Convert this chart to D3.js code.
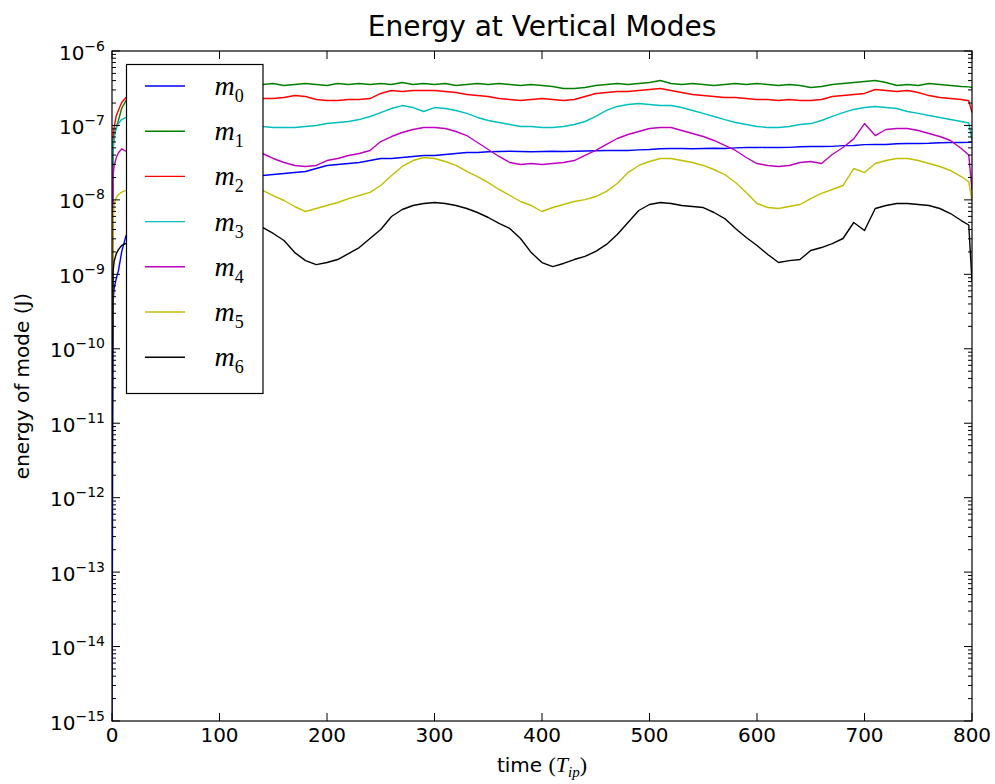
<!DOCTYPE html>
<html>
<head>
<meta charset="utf-8">
<script src="https://cdn.jsdelivr.net/npm/d3@7"></script>
<style>
  body { margin: 0; background: #fff; }
</style>
</head>
<body>
<script>
const width = 995;
const height = 784;
const margin = {top: 51, right: 23, bottom: 63, left: 112};
const plotW = width - margin.left - margin.right;
const plotH = height - margin.top - margin.bottom;

// time in T_ip
const times = [0, 1, 2, 4, 6, 9, 13,
  20, 30, 40, 50, 60, 70, 80, 90, 100, 110, 120, 130,
  140, 150, 160, 170, 180, 190, 200, 210, 220, 230,
  240, 250, 260, 270, 280, 290, 300, 310, 320, 330,
  340, 350, 360, 370, 380, 390, 400, 410, 420, 430,
  440, 450, 460, 470, 480, 490, 500, 510, 520, 530,
  540, 550, 560, 570, 580, 590, 600, 610, 620, 630,
  640, 650, 660, 670, 680, 690, 700, 710, 720, 730,
  740, 750, 760, 770, 780, 790, 797, 800];

// energy of each vertical mode (J)
const m0 = [1e-15, 4.4e-10, 6.5e-10, 8.8e-10, 1.12e-9, 2.0e-9, 3.3e-9,
  4.2e-9, 5.8e-9, 7.4e-9, 9.0e-9, 1.06e-8, 1.22e-8, 1.38e-8, 1.53e-8, 1.7e-8, 1.82e-8, 1.93e-8, 2.04e-8,
  2.13e-8, 2.19e-8, 2.26e-8, 2.33e-8, 2.41e-8, 2.64e-8, 2.90e-8, 2.99e-8, 3.08e-8, 3.18e-8,
  3.38e-8, 3.60e-8, 3.60e-8, 3.71e-8, 3.83e-8, 3.95e-8, 3.95e-8, 4.07e-8, 4.20e-8, 4.33e-8,
  4.33e-8, 4.43e-8, 4.47e-8, 4.5e-8, 4.47e-8, 4.43e-8, 4.47e-8, 4.5e-8, 4.47e-8, 4.5e-8,
  4.53e-8, 4.57e-8, 4.61e-8, 4.63e-8, 4.61e-8, 4.7e-8, 4.75e-8, 4.86e-8, 4.9e-8, 4.9e-8,
  4.86e-8, 4.9e-8, 4.94e-8, 4.9e-8, 5.0e-8, 5.05e-8, 5.05e-8, 5.08e-8, 5.05e-8, 5.08e-8,
  5.18e-8, 5.21e-8, 5.21e-8, 5.24e-8, 5.35e-8, 5.38e-8, 5.52e-8, 5.55e-8, 5.55e-8, 5.68e-8,
  5.72e-8, 5.72e-8, 5.76e-8, 5.85e-8, 5.9e-8, 5.9e-8, 5.92e-8, 5.95e-8];

const m1 = [1e-11, 4.5e-8, 7.3e-8, 9.5e-8, 1.17e-7, 1.69e-7, 2.16e-7,
  2.6e-7, 3.0e-7, 3.2e-7, 3.35e-7, 3.45e-7, 3.55e-7, 3.45e-7, 3.55e-7, 3.65e-7, 3.55e-7, 3.6e-7, 3.65e-7,
  3.55e-7, 3.66e-7, 3.44e-7, 3.55e-7, 3.66e-7, 3.55e-7, 3.44e-7, 3.66e-7, 3.55e-7, 3.66e-7,
  3.55e-7, 3.66e-7, 3.55e-7, 3.77e-7, 3.55e-7, 3.66e-7, 3.55e-7, 3.66e-7, 3.44e-7, 3.55e-7,
  3.66e-7, 3.55e-7, 3.66e-7, 3.55e-7, 3.44e-7, 3.55e-7, 3.44e-7, 3.33e-7, 3.13e-7, 3.13e-7,
  3.23e-7, 3.44e-7, 3.55e-7, 3.66e-7, 3.55e-7, 3.66e-7, 3.77e-7, 4.02e-7, 3.66e-7, 3.55e-7,
  3.66e-7, 3.55e-7, 3.44e-7, 3.55e-7, 3.66e-7, 3.55e-7, 3.66e-7, 3.55e-7, 3.44e-7, 3.55e-7,
  3.44e-7, 3.23e-7, 3.33e-7, 3.55e-7, 3.66e-7, 3.77e-7, 3.89e-7, 4.02e-7, 3.77e-7, 3.44e-7,
  3.55e-7, 3.44e-7, 3.66e-7, 3.55e-7, 3.44e-7, 3.33e-7, 3.3e-7, 3.23e-7];

const m2 = [1e-11, 7e-8, 9.5e-8, 1.35e-7, 1.6e-7, 2.03e-7, 2.37e-7,
  2.6e-7, 2.7e-7, 2.6e-7, 2.5e-7, 2.4e-7, 2.3e-7, 2.3e-7, 2.2e-7, 2.3e-7, 2.25e-7, 2.2e-7, 2.25e-7,
  2.30e-7, 2.30e-7, 2.37e-7, 2.52e-7, 2.45e-7, 2.23e-7, 2.16e-7, 2.16e-7, 2.23e-7, 2.23e-7,
  2.30e-7, 2.69e-7, 2.95e-7, 2.86e-7, 2.95e-7, 2.95e-7, 2.95e-7, 2.86e-7, 2.77e-7, 2.60e-7,
  2.52e-7, 2.45e-7, 2.30e-7, 2.23e-7, 2.16e-7, 2.23e-7, 2.30e-7, 2.23e-7, 2.16e-7, 2.23e-7,
  2.45e-7, 2.69e-7, 2.77e-7, 2.86e-7, 2.86e-7, 2.95e-7, 3.04e-7, 3.13e-7, 2.95e-7, 2.77e-7,
  2.60e-7, 2.52e-7, 2.45e-7, 2.37e-7, 2.37e-7, 2.30e-7, 2.23e-7, 2.23e-7, 2.16e-7, 2.23e-7,
  2.16e-7, 2.16e-7, 2.23e-7, 2.45e-7, 2.52e-7, 2.60e-7, 2.69e-7, 3.04e-7, 2.95e-7, 2.86e-7,
  2.95e-7, 2.77e-7, 2.52e-7, 2.37e-7, 2.30e-7, 2.23e-7, 2.15e-7, 1.49e-7];

const m3 = [1e-11, 5e-8, 7e-8, 9.2e-8, 1.06e-7, 1.2e-7, 1.28e-7,
  1.3e-7, 1.35e-7, 1.4e-7, 1.45e-7, 1.4e-7, 1.35e-7, 1.3e-7, 1.2e-7, 1.13e-7, 1.08e-7, 1.03e-7, 9.9e-8,
  9.68e-8, 9.38e-8, 9.38e-8, 9.38e-8, 9.68e-8, 9.98e-8, 1.06e-7, 1.095e-7, 1.13e-7, 1.20e-7,
  1.32e-7, 1.49e-7, 1.69e-7, 1.85e-7, 1.74e-7, 1.54e-7, 1.74e-7, 1.69e-7, 1.59e-7, 1.45e-7,
  1.28e-7, 1.165e-7, 1.095e-7, 1.03e-7, 9.68e-8, 9.68e-8, 9.38e-8, 9.38e-8, 9.68e-8, 1.03e-7,
  1.13e-7, 1.32e-7, 1.59e-7, 1.80e-7, 1.91e-7, 1.97e-7, 1.91e-7, 1.85e-7, 1.85e-7, 1.74e-7,
  1.59e-7, 1.45e-7, 1.32e-7, 1.20e-7, 1.095e-7, 1.03e-7, 9.68e-8, 9.38e-8, 9.38e-8, 9.68e-8,
  1.03e-7, 1.06e-7, 1.165e-7, 1.32e-7, 1.49e-7, 1.64e-7, 1.74e-7, 1.80e-7, 1.74e-7, 1.69e-7,
  1.54e-7, 1.45e-7, 1.36e-7, 1.28e-7, 1.20e-7, 1.13e-7, 1.08e-7, 6.28e-8];

const m4 = [1e-11, 2.1e-8, 2.9e-8, 3.7e-8, 4.3e-8, 4.85e-8, 4.5e-8,
  4.8e-8, 5.4e-8, 6e-8, 6.5e-8, 6.8e-8, 7e-8, 6.8e-8, 6.5e-8, 6e-8, 5.4e-8, 4.9e-8, 4.5e-8,
  4.20e-8, 3.60e-8, 3.18e-8, 2.90e-8, 2.81e-8, 2.90e-8, 3.38e-8, 3.60e-8, 3.95e-8, 4.20e-8,
  4.61e-8, 6.08e-8, 7.10e-8, 8.04e-8, 8.82e-8, 9.38e-8, 9.38e-8, 9.10e-8, 8.29e-8, 7.32e-8,
  5.90e-8, 4.75e-8, 3.83e-8, 3.18e-8, 2.99e-8, 3.08e-8, 2.99e-8, 3.08e-8, 3.18e-8, 3.38e-8,
  3.95e-8, 4.61e-8, 5.55e-8, 6.68e-8, 7.55e-8, 8.29e-8, 9.10e-8, 9.38e-8, 9.38e-8, 8.55e-8,
  7.79e-8, 7.10e-8, 6.28e-8, 5.38e-8, 4.61e-8, 3.71e-8, 3.08e-8, 2.90e-8, 2.81e-8, 2.90e-8,
  3.18e-8, 3.28e-8, 3.08e-8, 4.07e-8, 5.05e-8, 6.6e-8, 1.06e-7, 7.32e-8, 8.82e-8, 9.10e-8,
  9.10e-8, 8.55e-8, 7.79e-8, 7.10e-8, 6.28e-8, 4.90e-8, 4.0e-8, 1.34e-8];

const m5 = [1e-11, 5.3e-9, 8.9e-9, 1.08e-8, 1.18e-8, 1.27e-8, 1.34e-8,
  1.5e-8, 1.8e-8, 2.15e-8, 2.5e-8, 2.7e-8, 2.8e-8, 2.7e-8, 2.5e-8, 2.15e-8, 1.85e-8, 1.6e-8, 1.45e-8,
  1.34e-8, 1.145e-8, 9.81e-9, 8.15e-9, 6.98e-9, 7.66e-9, 8.40e-9, 9.22e-9, 1.04e-8, 1.145e-8,
  1.26e-8, 1.56e-8, 2.13e-8, 2.81e-8, 3.38e-8, 3.71e-8, 3.60e-8, 3.28e-8, 2.90e-8, 2.41e-8,
  2.06e-8, 1.71e-8, 1.38e-8, 1.145e-8, 9.51e-9, 8.40e-9, 6.98e-9, 7.90e-9, 8.67e-9, 9.51e-9,
  1.01e-8, 1.11e-8, 1.30e-8, 1.66e-8, 2.33e-8, 2.90e-8, 3.28e-8, 3.60e-8, 3.60e-8, 3.38e-8,
  3.18e-8, 2.90e-8, 2.56e-8, 2.19e-8, 1.71e-8, 1.26e-8, 8.94e-9, 7.90e-9, 7.66e-9, 8.15e-9,
  8.67e-9, 1.04e-8, 1.22e-8, 1.38e-8, 1.56e-8, 2.64e-8, 2.33e-8, 3.08e-8, 3.38e-8, 3.60e-8,
  3.60e-8, 3.38e-8, 3.08e-8, 2.81e-8, 2.48e-8, 2.06e-8, 1.75e-8, 9.81e-9];

const m6 = [1e-12, 1.1e-9, 1.5e-9, 1.9e-9, 2.15e-9, 2.44e-9, 2.6e-9,
  3.0e-9, 3.8e-9, 4.6e-9, 5.6e-9, 6.5e-9, 7.1e-9, 7.3e-9, 7.0e-9, 6.5e-9, 5.7e-9, 5.0e-9, 4.6e-9,
  4.26e-9, 3.54e-9, 2.85e-9, 1.96e-9, 1.53e-9, 1.35e-9, 1.44e-9, 1.58e-9, 1.90e-9, 2.29e-9,
  3.03e-9, 4.00e-9, 5.98e-9, 7.43e-9, 8.40e-9, 8.94e-9, 9.22e-9, 8.94e-9, 8.40e-9, 7.66e-9,
  6.77e-9, 5.80e-9, 4.82e-9, 4.13e-9, 3.03e-9, 1.96e-9, 1.44e-9, 1.27e-9, 1.40e-9, 1.58e-9,
  1.74e-9, 2.03e-9, 2.52e-9, 3.43e-9, 4.97e-9, 7.20e-9, 8.67e-9, 9.22e-9, 8.94e-9, 8.40e-9,
  8.15e-9, 7.90e-9, 6.77e-9, 5.62e-9, 4.13e-9, 3.12e-9, 2.44e-9, 1.85e-9, 1.44e-9, 1.53e-9,
  1.58e-9, 2.09e-9, 2.29e-9, 2.59e-9, 3.03e-9, 4.97e-9, 3.88e-9, 7.66e-9, 8.40e-9, 8.94e-9,
  8.94e-9, 8.67e-9, 8.40e-9, 7.66e-9, 6.56e-9, 5.28e-9, 4.6e-9, 8.0e-10];

const modes = [m0, m1, m2, m3, m4, m5, m6];
const modeColors = ["#0000ff", "#008000", "#ff0000", "#00bfbf", "#bf00bf", "#bfbf00", "#000000"];
const xTicks = [0, 100, 200, 300, 400, 500, 600, 700, 800];
const yDomain = [1e-15, 1e-6];

const sans = "DejaVu Sans, sans-serif";
const serif = "Liberation Serif, serif";

const svg = d3.select("body").append("svg")
    .attr("width", width)
    .attr("height", height)
    .attr("font-family", sans);

svg.append("rect").attr("width", width).attr("height", height).attr("fill", "#fff");

const g = svg.append("g").attr("transform", `translate(${margin.left},${margin.top})`);

const x = d3.scaleLinear().domain([0, 800]).range([0, plotW]);
const y = d3.scaleLog().domain(yDomain).range([plotH, 0]);

g.append("clipPath").attr("id", "plot-clip")
  .append("rect").attr("width", plotW).attr("height", plotH);

// series
const line = d3.line()
    .x((d, i) => x(times[i]))
    .y(d => y(d));

g.append("g").attr("clip-path", "url(#plot-clip)")
  .selectAll("path.mode")
  .data(modes)
  .join("path")
    .attr("class", "mode")
    .attr("d", line)
    .attr("fill", "none")
    .attr("stroke", (d, i) => modeColors[i])
    .attr("stroke-width", 1.4)
    .attr("stroke-linejoin", "round");

// ticks, pointing inward, on all four sides
const major = 8, minor = 4;
const yAll = y.ticks();
const isMajor = v => Math.abs(Math.log10(v) - Math.round(Math.log10(v))) < 1e-6;

const ticks = g.append("g").attr("stroke", "#000").attr("stroke-width", 1);
ticks.selectAll("line.xb").data(xTicks).join("line")
    .attr("x1", d => x(d)).attr("x2", d => x(d))
    .attr("y1", plotH).attr("y2", plotH - major);
ticks.selectAll("line.xt").data(xTicks).join("line")
    .attr("x1", d => x(d)).attr("x2", d => x(d))
    .attr("y1", 0).attr("y2", major);
ticks.selectAll("line.yl").data(yAll).join("line")
    .attr("x1", 0).attr("x2", d => isMajor(d) ? major : minor)
    .attr("y1", d => y(d)).attr("y2", d => y(d));
ticks.selectAll("line.yr").data(yAll).join("line")
    .attr("x1", plotW).attr("x2", d => plotW - (isMajor(d) ? major : minor))
    .attr("y1", d => y(d)).attr("y2", d => y(d));

// frame
g.append("rect")
    .attr("width", plotW).attr("height", plotH)
    .attr("fill", "none").attr("stroke", "#000").attr("stroke-width", 1.2);

// tick labels
g.selectAll("text.xlab").data(xTicks).join("text")
    .attr("class", "xlab")
    .attr("x", d => x(d)).attr("y", plotH + 21)
    .attr("text-anchor", "middle")
    .attr("font-size", 20)
    .attr("fill", "#000")
    .text(d => d);

const ylab = g.selectAll("text.ylab").data(yAll.filter(isMajor)).join("text")
    .attr("class", "ylab")
    .attr("x", -7).attr("y", d => y(d) + 8.5)
    .attr("text-anchor", "end")
    .attr("font-size", 20)
    .attr("fill", "#000");
ylab.append("tspan").text("10");
ylab.append("tspan").attr("font-size", 14).attr("dy", -9)
    .text(d => "\u2212" + Math.abs(Math.round(Math.log10(d))));

// title and axis labels
svg.append("text")
    .attr("x", margin.left + plotW / 2).attr("y", 36)
    .attr("text-anchor", "middle").attr("font-size", 28)
    .text("Energy at Vertical Modes");

svg.append("text")
    .attr("transform", `translate(29,${margin.top + plotH / 2}) rotate(-90)`)
    .attr("text-anchor", "middle").attr("font-size", 20)
    .text("energy of mode (J)");

const xl = svg.append("text")
    .attr("x", margin.left + plotW / 2).attr("y", 772)
    .attr("text-anchor", "middle").attr("font-size", 20);
xl.append("tspan").text("time ");
xl.append("tspan").attr("font-family", serif).attr("font-size", 22).text("(");
xl.append("tspan").attr("font-family", serif).attr("font-style", "italic").attr("font-size", 22).text("T");
xl.append("tspan").attr("font-family", serif).attr("font-style", "italic").attr("font-size", 15).attr("dy", 5).text("ip");
xl.append("tspan").attr("font-family", serif).attr("font-size", 22).attr("dy", -5).text(")");

// legend
const legend = svg.append("g").attr("transform", "translate(126.5,64.5)");
legend.append("rect")
    .attr("width", 136.5).attr("height", 329)
    .attr("fill", "#fff").attr("stroke", "#000").attr("stroke-width", 1.2);

const entry = legend.selectAll("g.entry").data(modes).join("g")
    .attr("class", "entry")
    .attr("transform", (d, i) => `translate(0,${21.5 + i * 45.2})`);
entry.append("line")
    .attr("x1", 18.5).attr("x2", 58.5)
    .attr("stroke", (d, i) => modeColors[i]).attr("stroke-width", 1.4);
const lt = entry.append("text")
    .attr("x", 88).attr("y", 9)
    .attr("font-family", serif);
lt.append("tspan").attr("font-style", "italic").attr("font-size", 28).text("m");
lt.append("tspan").attr("font-size", 18).attr("dy", 7).text((d, i) => i);
</script>
</body>
</html>
